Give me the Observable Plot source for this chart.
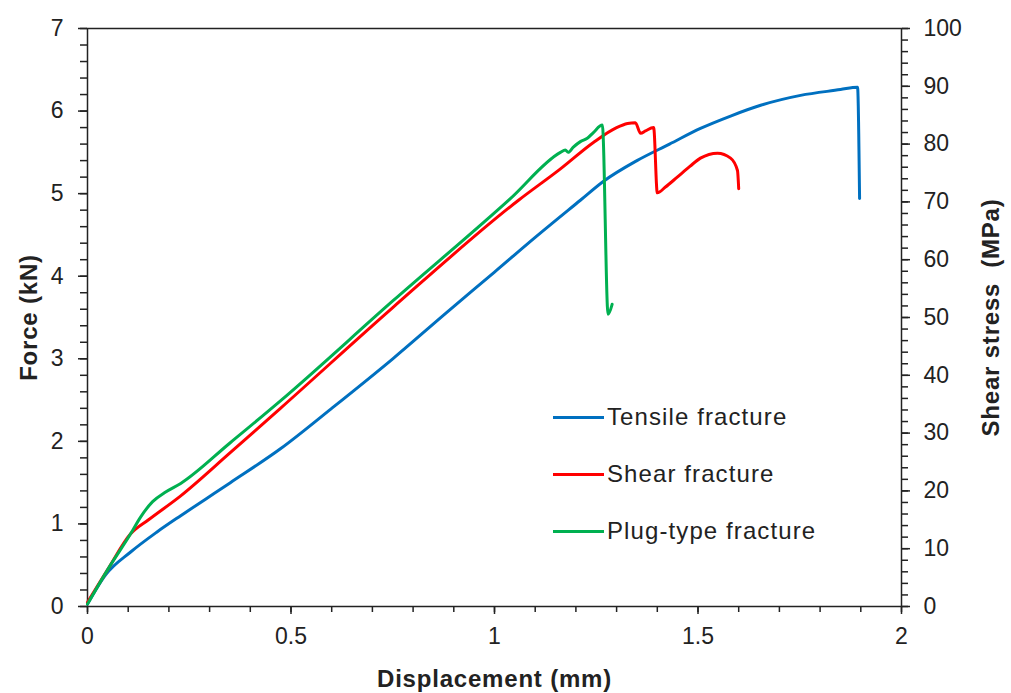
<!DOCTYPE html>
<html>
<head>
<meta charset="utf-8">
<script src="https://cdn.jsdelivr.net/npm/d3@7"></script>
<script src="https://cdn.jsdelivr.net/npm/@observablehq/plot@0.6"></script>
<style>
  html, body { margin: 0; padding: 0; background: #fff; }
  #wrap { position: relative; width: 1011px; height: 693px; font-family: "Liberation Sans", Arial, sans-serif; }
  .leg { position: absolute; left: 553px; display: flex; align-items: center; font-size: 24px; letter-spacing: 1.1px; color: #222; }
  .leg span.sw { display: inline-block; width: 51px; height: 3px; margin-right: 3px; }
</style>
</head>
<body>
<div id="wrap"></div>
<script>
// Tensile fracture (blue)
const tensileX = [0, 0.044, 0.106, 0.17, 0.229, 0.29, 0.351, 0.474, 0.6, 0.75, 0.88, 1.0, 1.1, 1.211, 1.268, 1.35, 1.43, 1.506, 1.58, 1.654, 1.752, 1.85, 1.892, 1.897];
const tensileF = [0.03, 0.38, 0.66, 0.90, 1.10, 1.30, 1.50, 1.91, 2.40, 3.00, 3.55, 4.05, 4.47, 4.92, 5.15, 5.40, 5.60, 5.79, 5.94, 6.07, 6.19, 6.26, 6.29, 4.94];
// Shear fracture (red)
const shearX = [0, 0.05, 0.106, 0.15, 0.229, 0.35, 0.474, 0.75, 1.059, 1.162, 1.243, 1.30, 1.327, 1.346, 1.359, 1.371, 1.391, 1.400, 1.42, 1.449, 1.48, 1.506, 1.548, 1.58, 1.597, 1.600];
const shearF = [0.05, 0.45, 0.88, 1.05, 1.34, 1.86, 2.40, 3.62, 4.92, 5.30, 5.62, 5.80, 5.85, 5.86, 5.73, 5.76, 5.80, 5.01, 5.08, 5.20, 5.33, 5.43, 5.49, 5.43, 5.28, 5.06];
// Plug-type fracture (green)
const plugX = [0, 0.05, 0.106, 0.13, 0.16, 0.19, 0.229, 0.35, 0.474, 0.75, 1.039, 1.162, 1.174, 1.181, 1.193, 1.211, 1.228, 1.243, 1.265, 1.279, 1.289];
const plugF = [0.03, 0.45, 0.88, 1.08, 1.27, 1.38, 1.49, 1.98, 2.49, 3.70, 4.94, 5.50, 5.53, 5.50, 5.56, 5.63, 5.67, 5.74, 5.83, 3.54, 3.66];

const seriesNames = ["Tensile fracture", "Shear fracture", "Plug-type fracture"];
const seriesColors = ["#0070C0", "#FF0000", "#00B050"];

const xMajor = [0, 0.5, 1, 1.5, 2];
const xMinor = d3.range(0, 2.0001, 0.1);
const yMajor = [0, 1, 2, 3, 4, 5, 6, 7];
const yMinor = d3.range(0, 7.0001, 0.2);
const mpaMajor = [0, 10, 20, 30, 40, 50, 60, 70, 80, 90, 100];
const mpaMinor = d3.range(0, 100.001, 2);
const kNperMPa = 7 / 100;

const toRows = (xs, ys, name) => xs.map((x, i) => ({x, y: ys[i], name}));
const data = [
  ...toRows(tensileX, tensileF, seriesNames[0]),
  ...toRows(shearX, shearF, seriesNames[1]),
  ...toRows(plugX, plugF, seriesNames[2])
];

const fmtX = v => (v === 0 ? "0" : String(v));

const chart = Plot.plot({
  width: 1011,
  height: 693,
  marginLeft: 87,
  marginRight: 110,
  marginTop: 28,
  marginBottom: 87,
  style: { fontFamily: "Liberation Sans, Arial, sans-serif", fontSize: "23px", color: "#222", background: "#fff" },
  x: { domain: [0, 2] },
  y: { domain: [0, 7] },
  color: { domain: seriesNames, range: seriesColors },
  marks: [
    Plot.frame({ stroke: "#222", strokeWidth: 1.5 }),
    // minor ticks
    Plot.axisX({ ticks: xMinor, tickSize: 6, tickFormat: () => "", strokeWidth: 1.5, label: null }),
    Plot.axisY({ ticks: yMinor, tickSize: 7, tickFormat: () => "", strokeWidth: 1.5, label: null }),
    Plot.axisY({ anchor: "right", ticks: mpaMinor.map(m => m * kNperMPa), tickSize: 6, tickFormat: () => "", strokeWidth: 1.5, label: null }),
    // major ticks + labels
    Plot.axisX({ ticks: xMajor, tickSize: 8, tickPadding: 13, tickFormat: fmtX, strokeWidth: 1.5,
      label: "Displacement (mm)", labelAnchor: "center", labelArrow: "none", labelOffset: 80 }),
    Plot.axisY({ ticks: yMajor, tickSize: 9, tickPadding: 15, tickFormat: d => String(d), strokeWidth: 1.5,
      label: "Force (kN)", labelAnchor: "center", labelArrow: "none", labelOffset: 68 }),
    Plot.axisY({ anchor: "right", ticks: mpaMajor.map(m => m * kNperMPa), tickSize: 8, tickPadding: 14,
      tickFormat: v => String(Math.round(v / kNperMPa)), strokeWidth: 1.5,
      label: "Shear stress  (MPa)", labelAnchor: "center", labelArrow: "none", labelOffset: 97 }),
    Plot.line(data, { x: "x", y: "y", z: "name", stroke: "name", strokeWidth: 3, curve: "monotone-x", strokeLinejoin: "round", strokeLinecap: "round" })
  ]
});

const wrap = document.getElementById("wrap");
wrap.appendChild(chart);

// style axis labels bold
chart.querySelectorAll("g[aria-label='x-axis label'] text, g[aria-label='y-axis label'] text").forEach(t => {
  t.setAttribute("font-weight", "bold");
  t.setAttribute("font-size", "24");
  t.setAttribute("letter-spacing", "0.8");
});

const legendTops = [417, 474, 531];
seriesNames.forEach((n, i) => {
  const d = document.createElement("div");
  d.className = "leg";
  d.style.top = (legendTops[i] - 14) + "px";
  d.style.height = "28px";
  d.innerHTML = `<span class="sw" style="background:${seriesColors[i]}"></span><span>${n}</span>`;
  wrap.appendChild(d);
});
</script>
</body>
</html>
